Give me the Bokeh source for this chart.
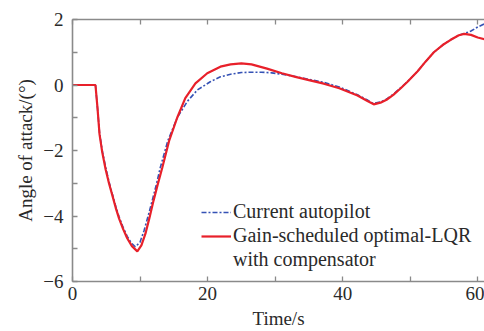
from bokeh.plotting import figure
from bokeh.models import Range1d, LinearAxis, FixedTicker, Legend, LegendItem
from bokeh.embed import file_html
from bokeh.resources import INLINE

# ---- data ----
t_red = [0, 3.4, 3.7, 4.0, 4.4, 4.9, 5.4, 5.9, 6.4, 6.9, 7.5, 8.1, 8.8, 9.6, 10.2,
         10.8, 11.4, 12.0, 12.6, 13.3, 14.3, 15.5, 16.7, 18.2, 19.95, 21.9, 23.4,
         25.0, 26.5, 28.8, 31.0, 33.0, 35.0, 37.2, 39.5, 42.2, 43.6, 44.6, 45.6,
         46.5, 47.5, 48.6, 49.6, 51.1, 52.3, 53.5, 54.8, 56.0, 57.2, 58.0, 59.0,
         60.0, 61.0]
aoa_lqr = [0, 0, -0.7, -1.5, -2.05, -2.57, -3.0, -3.37, -3.75, -4.08, -4.4, -4.68,
           -4.92, -5.08, -4.9, -4.54, -4.05, -3.53, -3.05, -2.52, -1.71, -1.0, -0.4,
           0.05, 0.36, 0.56, 0.63, 0.66, 0.63, 0.5, 0.36, 0.25, 0.15, 0.04, -0.1,
           -0.32, -0.48, -0.59, -0.54, -0.45, -0.3, -0.1, 0.1, 0.42, 0.72, 1.0, 1.22,
           1.38, 1.52, 1.56, 1.53, 1.45, 1.4]

t_blue = [0, 3.4, 3.7, 4.0, 4.4, 4.9, 5.4, 5.9, 6.4, 6.9, 7.5, 8.1, 8.7, 9.3, 10.0,
          10.6, 11.2, 11.8, 12.4, 13.0, 14.1, 15.5, 17.0, 18.5, 20.4, 21.9, 23.4,
          25.0, 26.5, 28.0, 29.5, 31.0, 33.0, 35.0, 37.2, 39.5, 42.2, 43.6, 44.5,
          45.6, 46.5, 47.5, 48.6, 49.6, 51.1, 52.3, 53.5, 54.8, 56.0, 57.2, 58.0,
          59.0, 60.0, 61.0]
aoa_current = [0, 0, -0.7, -1.45, -2.0, -2.5, -2.95, -3.33, -3.7, -4.03, -4.35,
               -4.62, -4.82, -4.94, -4.8, -4.44, -4.0, -3.53, -3.05, -2.52, -1.71,
               -1.0, -0.5, -0.15, 0.1, 0.25, 0.33, 0.38, 0.39, 0.39, 0.37, 0.33,
               0.26, 0.17, 0.08, -0.06, -0.3, -0.45, -0.56, -0.52, -0.43, -0.28,
               -0.08, 0.1, 0.42, 0.72, 1.0, 1.22, 1.38, 1.52, 1.57, 1.65, 1.77, 1.87]

x_major = [0, 20, 40, 60]
x_minor = [10, 30, 50]
x_all = [0, 10, 20, 30, 40, 50, 60]
y_ticks = [-6, -4, -2, 0, 2]
y_minor = [-5, -3, -1, 1]
y_labels = {-6: "\u22126", -4: "\u22124", -2: "\u22122", 0: "0", 2: "2"}

label_series_1 = "Current autopilot"
label_series_2 = "Gain-scheduled optimal-LQR"
label_series_2b = "with compensator"

FONT = "Liberation Serif"
AXIS_COLOR = "#8a8a8a"
TEXT_COLOR = "#2a2a2a"

p = figure(width=484, height=331, output_backend="svg", toolbar_location=None,
           x_range=Range1d(0, 61), y_range=Range1d(-6, 2),
           min_border_left=72, min_border_right=0, min_border_top=19,
           min_border_bottom=48)
p.outline_line_color = None
p.grid.visible = False
p.background_fill_color = "white"

blue = p.line(t_blue, aoa_current, line_color="#3552b5", line_width=1.6,
              line_dash="5 2 2 2")
red = p.line(t_red, aoa_lqr, line_color="#e8202a", line_width=2.2)
dummy = p.line([], [], line_alpha=0)

for ax in p.xaxis:
    ax.ticker = FixedTicker(ticks=x_major, minor_ticks=x_minor)
    ax.axis_label = "Time/s"
for ax in p.yaxis:
    ax.ticker = FixedTicker(ticks=y_ticks, minor_ticks=y_minor)
    ax.major_label_overrides = y_labels
    ax.axis_label = "Angle of attack/(\u00b0)"

top = LinearAxis(ticker=FixedTicker(ticks=[], minor_ticks=x_all),
                 major_label_standoff=0)
p.add_layout(top, "above")

for ax in list(p.xaxis) + list(p.yaxis):
    ax.axis_line_color = AXIS_COLOR
    ax.axis_line_width = 1.6
    ax.major_tick_line_color = AXIS_COLOR
    ax.minor_tick_line_color = AXIS_COLOR
    ax.major_tick_line_width = 1.3
    ax.minor_tick_line_width = 1.3
    ax.major_tick_in = 5
    ax.major_tick_out = 0
    ax.minor_tick_in = 5
    ax.minor_tick_out = 0
    ax.major_label_text_font = FONT
    ax.major_label_text_color = TEXT_COLOR
    ax.major_label_text_font_size = "19px"
    ax.axis_label_text_font = FONT
    ax.axis_label_text_font_style = "normal"
    ax.axis_label_text_color = TEXT_COLOR
    ax.axis_label_text_font_size = "19px"

p.xaxis[0].major_label_standoff = 9
p.xaxis[0].axis_label_standoff = 0
p.yaxis[0].major_label_standoff = 9
p.yaxis[0].axis_label_standoff = 4

legend = Legend(items=[LegendItem(label=label_series_1, renderers=[blue]),
                       LegendItem(label=label_series_2, renderers=[red]),
                       LegendItem(label=label_series_2b, renderers=[dummy])],
                location=(129, 10), border_line_color=None,
                background_fill_alpha=0, padding=0, margin=0, spacing=1,
                glyph_width=30, glyph_height=20, label_height=20,
                label_standoff=2, label_text_font=FONT,
                label_text_font_size="20px", label_text_color=TEXT_COLOR)
p.add_layout(legend, "center")

open("out.html", "w").write(file_html(p, INLINE))
